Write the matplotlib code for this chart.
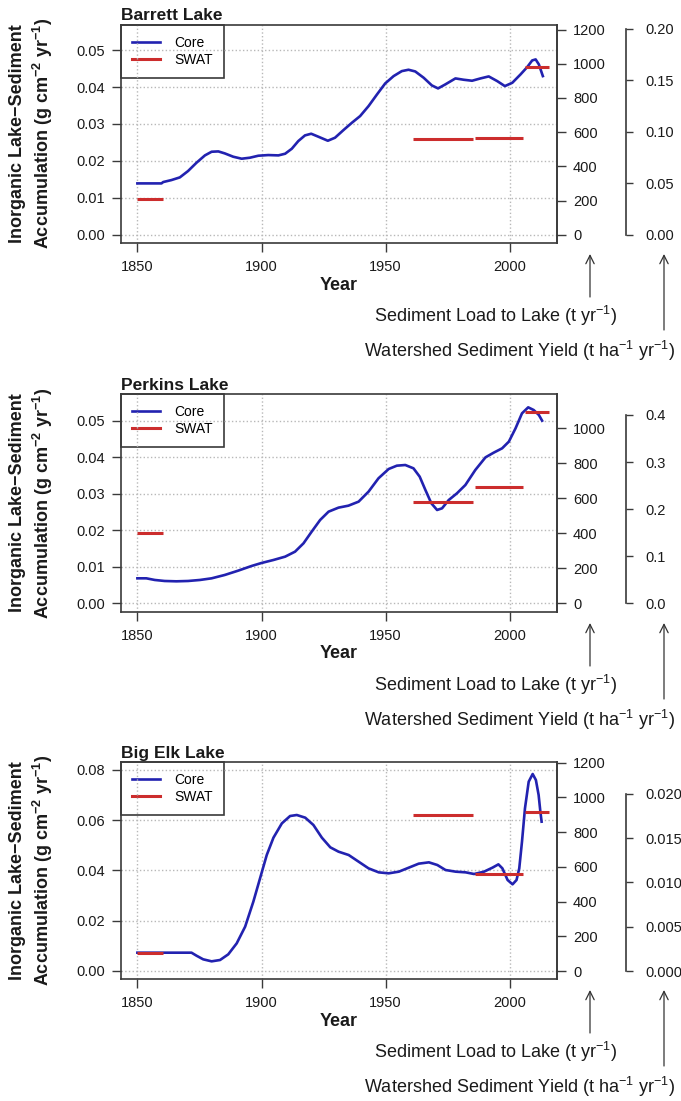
import matplotlib
matplotlib.use('Agg')
import matplotlib.pyplot as plt
from matplotlib.ticker import FormatStrFormatter

plt.rcParams['font.family'] = ['Liberation Sans', 'DejaVu Sans']
plt.rcParams['mathtext.fontset'] = 'custom'
plt.rcParams['mathtext.rm'] = 'Liberation Sans'
plt.rcParams['mathtext.it'] = 'Liberation Sans:italic'
plt.rcParams['mathtext.bf'] = 'Liberation Sans:bold'

# ---- data ----
# Barrett Lake
barrett_year = [1850, 1859.7, 1860.4, 1863.7, 1867.1, 1870.4, 1873.8, 1877.2, 1879.9, 1882.6,
                1885.2, 1888.6, 1892, 1895.3, 1898.7, 1902.7, 1906.8, 1909.5, 1912.2, 1914.8,
                1917.5, 1920, 1922.9, 1926.7, 1929.6, 1933, 1936.4, 1939.7, 1943.1, 1946.5,
                1949.8, 1953.2, 1956.5, 1959.2, 1961.9, 1965.3, 1968.6, 1971.1, 1974, 1978.1,
                1981.4, 1984.8, 1988.2, 1991.5, 1994.9, 1998, 2001, 2004.3, 2007, 2009,
                2010.4, 2011.7, 2013.3]
barrett_core = [0.0139, 0.0139, 0.01427, 0.0148, 0.01553, 0.01725, 0.0195, 0.02149, 0.02248, 0.02257,
                0.02203, 0.02113, 0.02059, 0.02086, 0.0214, 0.02158, 0.02149, 0.02194, 0.0233, 0.02537,
                0.02691, 0.02736, 0.02655, 0.02546, 0.02628, 0.02835, 0.03034, 0.03214, 0.03485, 0.03801,
                0.04099, 0.04298, 0.04433, 0.0447, 0.04424, 0.04253, 0.04045, 0.03964, 0.04072, 0.04235,
                0.04199, 0.04172, 0.04235, 0.04289, 0.04163, 0.04027, 0.04117, 0.04343, 0.04542, 0.04722,
                0.0475, 0.04614, 0.04298]
barrett_swat = [210, 558, 564, 980]

# Perkins Lake
perkins_year = [1850, 1853.6, 1857, 1861, 1865.7, 1870.4, 1875.2, 1879.9, 1885.2, 1890.6,
                1896, 1900, 1904.8, 1909.5, 1913.5, 1916.9, 1920.2, 1923.6, 1927, 1931,
                1935, 1939.1, 1943.1, 1947.1, 1951.2, 1954.5, 1957.9, 1961.2, 1963.7, 1966,
                1968.4, 1970.7, 1972.7, 1975.4, 1978.7, 1982.1, 1986.1, 1990.2, 1993.5, 1996.9,
                1999.6, 2002.3, 2004.9, 2007.4, 2009.6, 2011.7, 2013]
perkins_core = [0.00684, 0.00684, 0.00639, 0.00611, 0.00602, 0.00611, 0.00639, 0.00684, 0.00776, 0.00894,
                0.01022, 0.01104, 0.01186, 0.01277, 0.01414, 0.01642, 0.01962, 0.02281, 0.02509, 0.02619,
                0.02673, 0.02783, 0.03057, 0.03422, 0.03677, 0.03768, 0.03786, 0.03695, 0.03467, 0.03102,
                0.02737, 0.02555, 0.026, 0.02828, 0.03011, 0.03239, 0.0365, 0.03996, 0.04124, 0.04243,
                0.04425, 0.0479, 0.05201, 0.05365, 0.05292, 0.05155, 0.05]
perkins_swat = [404, 577, 665, 1091]

# Big Elk Lake
bigelk_year = [1850, 1871.8, 1873.8, 1876.5, 1879.9, 1883.3, 1886.6, 1890, 1893.4, 1896.7,
               1899.4, 1902.1, 1904.8, 1908.2, 1911.5, 1914.2, 1917.6, 1920.9, 1924.3, 1927.7,
               1931, 1935.1, 1939.1, 1943.1, 1947.2, 1951.2, 1955.3, 1959.3, 1963.3, 1967.4,
               1970.8, 1974.1, 1978.2, 1982.2, 1985.6, 1989.6, 1993, 1995.4, 1997, 1999.1,
               2001.1, 2002.7, 2003.8, 2004.9, 2006.1, 2007.6, 2009.2, 2010.5, 2011.6, 2012.3,
               2012.8]
bigelk_core = [0.00728, 0.00728, 0.00609, 0.00464, 0.00384, 0.00437, 0.00662, 0.01099, 0.01762, 0.02755,
               0.03682, 0.04609, 0.05298, 0.05868, 0.06159, 0.06199, 0.06093, 0.05801, 0.05298, 0.04914,
               0.04742, 0.04609, 0.04344, 0.04079, 0.0392, 0.03881, 0.03947, 0.04106, 0.04265, 0.04318,
               0.04212, 0.04013, 0.03947, 0.0392, 0.03854, 0.03947, 0.04106, 0.04238, 0.04079, 0.03616,
               0.03444, 0.03616, 0.04079, 0.05139, 0.06464, 0.07523, 0.07828, 0.07589, 0.06993, 0.06331,
               0.05934]
bigelk_swat = [102, 901, 557, 914]

swat_start = [1850, 1961, 1986, 2006]
swat_end = [1860.5, 1985.2, 2005.4, 2015.8]

lakes = ['Barrett Lake', 'Perkins Lake', 'Big Elk Lake']
years = [barrett_year, perkins_year, bigelk_year]
cores = [barrett_core, perkins_core, bigelk_core]
swats = [barrett_swat, perkins_swat, bigelk_swat]

core_ticks = [[0, 0.01, 0.02, 0.03, 0.04, 0.05], [0, 0.01, 0.02, 0.03, 0.04, 0.05],
              [0, 0.02, 0.04, 0.06, 0.08]]
load_ticks = [[0, 200, 400, 600, 800, 1000, 1200], [0, 200, 400, 600, 800, 1000],
              [0, 200, 400, 600, 800, 1000, 1200]]
yield_ticks = [[0, 0.05, 0.10, 0.15, 0.20], [0, 0.1, 0.2, 0.3, 0.4],
               [0, 0.005, 0.010, 0.015, 0.020]]
yield_fmt = ['%.2f', '%.1f', '%.3f']

# axis limits (R-style padded)
core_lim = [(-0.00225, 0.05696), (-0.00238, 0.0573), (-0.00318, 0.08317)]
load_lim = [(-48.6, 1230), (-49.7, 1196), (-46, 1206)]
yield_lim = [(-0.0081, 0.2041), (-0.0185, 0.4446), (-0.0009, 0.02361)]

# ---- layout ----
W, H = 681, 1101
ax_left, ax_right = 121, 557
ax_tb = [(24.5, 243), (394, 612), (761.7, 979)]

BLUE = '#2222b0'
RED = '#cc2d2d'
AX = '#3a3a3a'
TXT = '#1a1a1a'

fig = plt.figure(figsize=(W / 100, H / 100), dpi=100)

for i in range(3):
    top, bot = ax_tb[i]
    ax = fig.add_axes([ax_left / W, 1 - bot / H, (ax_right - ax_left) / W, (bot - top) / H])
    hpx = bot - top
    wpx = ax_right - ax_left

    ax.plot(years[i], cores[i], color=BLUE, lw=1.9, label='Core', zorder=3)
    ax.plot([], [], color=RED, lw=2.2, label='SWAT')
    ax.set_xlim(1843.4, 2019.0)
    ax.set_ylim(*core_lim[i])
    ax.set_xticks([1850, 1900, 1950, 2000])
    ax.set_yticks(core_ticks[i])
    ax.yaxis.set_major_formatter(FormatStrFormatter('%.2f'))
    ax.tick_params(direction='out', length=6.5, width=1, color=AX, labelcolor=TXT,
                   labelsize=10.5)
    ax.tick_params(axis='y', pad=5)
    ax.tick_params(axis='x', pad=6)
    ax.grid(True, linestyle=':', color='#b8b8b8', lw=1)
    for s in ax.spines.values():
        s.set_color(AX)
        s.set_linewidth(1.2)
    ax.set_title(lakes[i], loc='left', fontsize=12.5, fontweight='bold', pad=3, color=TXT)
    ax.text(0.5, -42 / hpx, 'Year', transform=ax.transAxes, ha='center', va='center',
            fontsize=13, fontweight='bold', color=TXT)

    leg = ax.legend(loc='upper left', bbox_to_anchor=(0, 1), borderaxespad=0,
                    fancybox=False, framealpha=1, edgecolor=AX, fontsize=10,
                    borderpad=0.8, labelspacing=0.22, handlelength=2.0, handletextpad=1.05)
    leg.get_frame().set_linewidth(1.2)
    leg.set_zorder(1)

    # sediment load axis
    ax2 = ax.twinx()
    for (a, b, v) in zip(swat_start, swat_end, swats[i]):
        ax2.plot([a, b], [v, v], color=RED, lw=2.2, solid_capstyle='butt')
    ax2.set_ylim(*load_lim[i])
    ax2.set_yticks(load_ticks[i])
    ax2.tick_params(direction='out', length=6.5, width=1, color=AX, labelcolor=TXT,
                    labelsize=10.5, pad=5)
    for k in ['left', 'top', 'bottom']:
        ax2.spines[k].set_visible(False)
    ax2.spines['right'].set_color(AX)
    ax2.spines['right'].set_linewidth(1.2)

    # watershed yield axis
    ax3 = ax.twinx()
    ax3.set_ylim(*yield_lim[i])
    ax3.set_yticks(yield_ticks[i])
    ax3.yaxis.set_major_formatter(FormatStrFormatter(yield_fmt[i]))
    ax3.spines['right'].set_position(('axes', (626 - ax_left) / wpx))
    ax3.spines['right'].set_bounds(yield_ticks[i][0], yield_ticks[i][-1])
    ax3.spines['right'].set_color(AX)
    ax3.spines['right'].set_linewidth(1.2)
    for k in ['left', 'top', 'bottom']:
        ax3.spines[k].set_visible(False)
    ax3.tick_params(direction='out', length=5, width=1, color=AX, labelcolor=TXT,
                    labelsize=10.5, pad=9)

    # arrows and captions under the right-hand axes
    tip = -11 / hpx
    for xa, tail in [((590 - ax_left) / wpx, -54 / hpx), ((664 - ax_left) / wpx, -87 / hpx)]:
        ax.annotate('', xy=(xa, tip), xycoords='axes fraction', xytext=(xa, tail),
                    textcoords='axes fraction',
                    arrowprops=dict(arrowstyle='->,head_length=0.6,head_width=0.3',
                                    lw=0.9, color='#333333', shrinkA=0, shrinkB=0))
    ax.text((495.5 - ax_left) / wpx, -73 / hpx, r'Sediment Load to Lake (t yr$^{-1}$)',
            transform=ax.transAxes, ha='center', va='center', fontsize=13, color=TXT)
    ax.text((520 - ax_left) / wpx, -108 / hpx,
            r'Watershed Sediment Yield (t ha$^{-1}$ yr$^{-1}$)',
            transform=ax.transAxes, ha='center', va='center', fontsize=13, color=TXT)

    # y label
    fig.text(32 / W, 1 - (top + bot) / 2 / H,
             'Inorganic Lake\u2212Sediment\n'
             r'Accumulation (g cm$^{\mathbf{-2}}$ yr$^{\mathbf{-1}}$)',
             rotation=90, ha='center', va='center', multialignment='center',
             fontsize=13, fontweight='bold', color=TXT, linespacing=1.3)

fig.savefig('out.png', dpi=100)
